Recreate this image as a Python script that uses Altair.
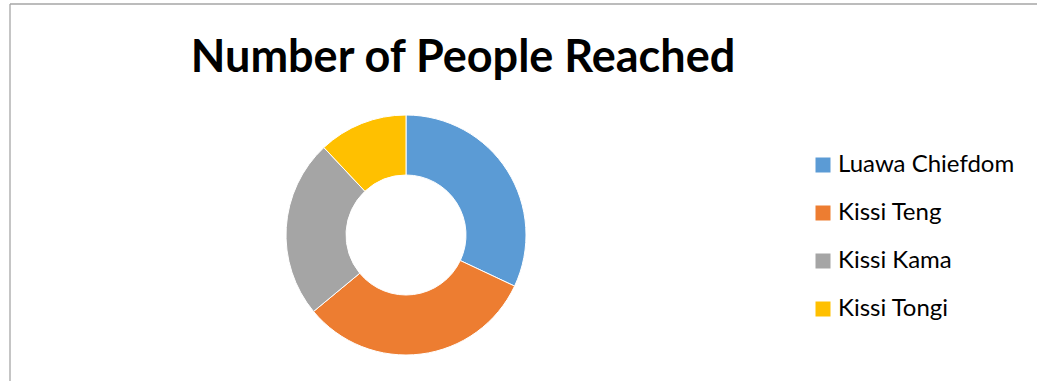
import altair as alt
import pandas as pd

categories = ["Luawa Chiefdom", "Kissi Teng", "Kissi Kama", "Kissi Tongi"]
values = [32, 32, 24, 12]
colors = ["#5B9BD5", "#ED7D31", "#A5A5A5", "#FFC000"]
title_text = "Number of People Reached"

df = pd.DataFrame({"category": categories, "value": values, "order": list(range(len(categories)))})

W, H = 1037, 381
FONT = "Lato"

donut = alt.Chart(df).mark_arc(innerRadius=60, outerRadius=120, stroke="white", strokeWidth=1).encode(
    theta=alt.Theta("value:Q", stack=True),
    order=alt.Order("order:Q"),
    color=alt.Color(
        "category:N",
        sort=categories,
        scale=alt.Scale(domain=categories, range=colors),
        legend=alt.Legend(
            title=None,
            orient="none",
            legendX=811,
            legendY=153,
            padding=0,
            symbolType="square",
            symbolSize=225,
            symbolStrokeWidth=0,
            labelFont=FONT,
            labelFontSize=24,
            labelColor="#000000",
            labelOffset=3,
            rowPadding=24,
            labelLimit=400,
        ),
    ),
    x=alt.value(406),
    y=alt.value(235),
)

title = alt.Chart(pd.DataFrame({"t": [title_text]})).mark_text(
    font=FONT, fontSize=45, fontWeight="bold", color="#000000", align="center", baseline="alphabetic"
).encode(text="t:N", x=alt.value(463), y=alt.value(72))

border_top = alt.Chart(pd.DataFrame({"a": [0]})).mark_rule(color="#A6A6A6", strokeWidth=1.3).encode(
    x=alt.value(10), x2=alt.value(1100), y=alt.value(4)
)
border_left = alt.Chart(pd.DataFrame({"a": [0]})).mark_rule(color="#A6A6A6", strokeWidth=1.3).encode(
    x=alt.value(10), y=alt.value(4), y2=alt.value(500)
)

chart = alt.layer(border_top, border_left, donut, title).properties(
    width=W, height=H, padding=0, autosize=alt.AutoSizeParams(type="none")
).configure_view(stroke=None)

chart.save("out.html", embed_options={"renderer": "svg", "actions": False})
